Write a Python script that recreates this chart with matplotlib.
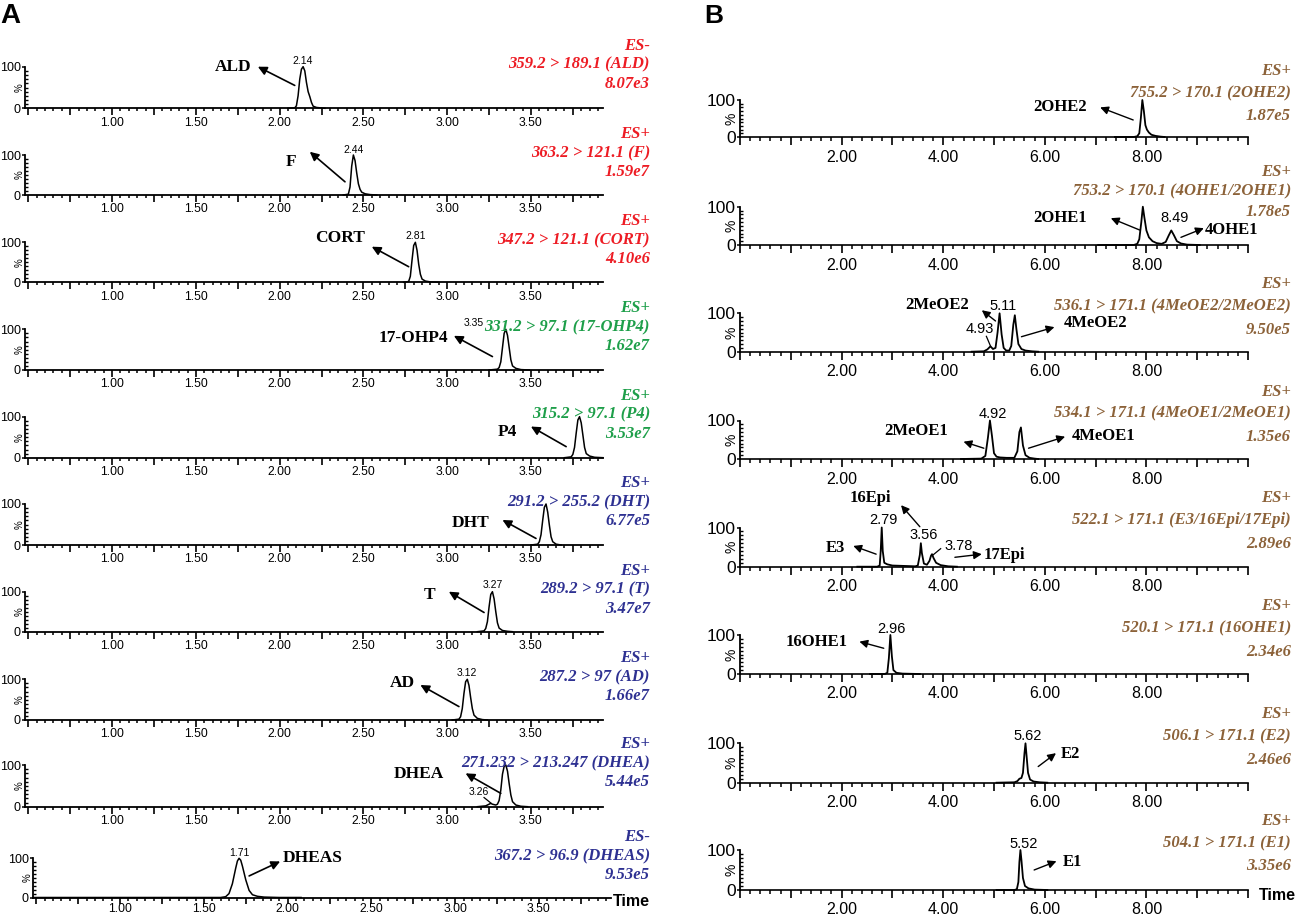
import matplotlib.pyplot as plt
from matplotlib.ticker import MultipleLocator, FixedLocator, FuncFormatter

SANS = 'Liberation Sans'
SERIF = 'Liberation Serif'
plt.rcParams['font.family'] = SANS

# ---------------- panel A data ----------------
a_mode = ['ES-', 'ES+', 'ES+', 'ES+', 'ES+', 'ES+', 'ES+', 'ES+', 'ES+', 'ES-']
a_mrm = ['359.2 > 189.1 (ALD)', '363.2 > 121.1 (F)', '347.2 > 121.1 (CORT)',
         '331.2 > 97.1 (17-OHP4)', '315.2 > 97.1 (P4)', '291.2 > 255.2 (DHT)',
         '289.2 > 97.1 (T)', '287.2 > 97 (AD)', '271.232 > 213.247 (DHEA)',
         '367.2 > 96.9 (DHEAS)']
a_resp = ['8.07e3', '1.59e7', '4.10e6', '1.62e7', '3.53e7', '6.77e5',
          '3.47e7', '1.66e7', '5.44e5', '9.53e5']
a_name = ['ALD', 'F', 'CORT', '17-OHP4', 'P4', 'DHT', 'T', 'AD', 'DHEA', 'DHEAS']
a_rt = ['2.14', '2.44', '2.81', '3.35', '', '', '3.27', '3.12', '3.26', '1.71']
a_ticks = [1.00, 1.50, 2.00, 2.50, 3.00, 3.50]

a_time = [
    [2.05, 2.09, 2.10, 2.11, 2.12, 2.13, 2.14, 2.15, 2.16, 2.17, 2.18, 2.19, 2.20, 2.22, 2.27],
    [2.38, 2.41, 2.42, 2.43, 2.44, 2.45, 2.46, 2.47, 2.48, 2.49, 2.51, 2.54, 2.58],
    [2.74, 2.77, 2.78, 2.79, 2.80, 2.81, 2.82, 2.83, 2.84, 2.85, 2.87, 2.90, 2.95],
    [3.25, 3.30, 3.31, 3.32, 3.33, 3.34, 3.35, 3.36, 3.37, 3.38, 3.39, 3.41, 3.44, 3.49],
    [3.70, 3.74, 3.75, 3.76, 3.77, 3.78, 3.79, 3.80, 3.81, 3.82, 3.83, 3.85, 3.88, 3.93],
    [3.50, 3.54, 3.55, 3.56, 3.57, 3.58, 3.59, 3.60, 3.61, 3.62, 3.63, 3.65, 3.68],
    [3.18, 3.22, 3.23, 3.24, 3.25, 3.26, 3.27, 3.28, 3.29, 3.30, 3.31, 3.33, 3.36, 3.39],
    [3.03, 3.07, 3.08, 3.09, 3.10, 3.11, 3.12, 3.13, 3.14, 3.15, 3.16, 3.18, 3.21, 3.24],
    [3.18, 3.23, 3.25, 3.26, 3.27, 3.29, 3.30, 3.31, 3.32, 3.33, 3.34, 3.35, 3.36, 3.37,
     3.38, 3.39, 3.41, 3.44, 3.48],
    [0.48, 1.60, 1.63, 1.65, 1.67, 1.69, 1.70, 1.71, 1.72, 1.73, 1.75, 1.77, 1.79, 1.82,
     1.86, 1.95, 2.08],
]
a_int = [
    [0, 1, 6, 30, 70, 94, 100, 90, 62, 40, 28, 14, 5, 2, 0],
    [0, 2, 20, 72, 100, 86, 55, 28, 14, 7, 3, 1, 0],
    [0, 2, 15, 55, 92, 100, 80, 45, 20, 8, 3, 1, 0],
    [0, 2, 6, 20, 55, 90, 100, 85, 55, 25, 10, 4, 1, 0],
    [0, 2, 8, 25, 60, 92, 100, 85, 55, 25, 10, 4, 1, 0],
    [0, 2, 8, 25, 60, 92, 100, 80, 48, 20, 8, 2, 0],
    [0, 2, 8, 25, 62, 93, 100, 82, 50, 22, 9, 3, 1, 0],
    [0, 2, 8, 28, 65, 94, 100, 85, 55, 28, 12, 4, 1, 0],
    [0, 2, 6, 8, 6, 4, 6, 15, 40, 78, 97, 100, 85, 55, 28, 12, 4, 1, 0],
    [0, 0, 2, 10, 35, 75, 93, 100, 95, 80, 45, 18, 7, 3, 1, 0, 0],
]

# ---------------- panel B data ----------------
b_mode = ['ES+'] * 8
b_mrm = ['755.2 > 170.1 (2OHE2)', '753.2 > 170.1 (4OHE1/2OHE1)',
         '536.1 > 171.1 (4MeOE2/2MeOE2)', '534.1 > 171.1 (4MeOE1/2MeOE1)',
         '522.1 > 171.1 (E3/16Epi/17Epi)', '520.1 > 171.1 (16OHE1)',
         '506.1 > 171.1 (E2)', '504.1 > 171.1 (E1)']
b_resp = ['1.87e5', '1.78e5', '9.50e5', '1.35e6', '2.89e6', '2.34e6', '2.46e6', '3.35e6']
b_name = [['2OHE2'], ['2OHE1', '4OHE1'], ['2MeOE2', '4MeOE2'], ['2MeOE1', '4MeOE1'],
          ['16Epi', 'E3', '17Epi'], ['16OHE1'], ['E2'], ['E1']]
b_rt = [[], ['8.49'], ['5.11', '4.93'], ['4.92'], ['2.79', '3.56', '3.78'],
        ['2.96'], ['5.62'], ['5.52']]
b_ticks = [2.00, 4.00, 6.00, 8.00]

b_time = [
    [7.38, 7.75, 7.82, 7.86, 7.89, 7.92, 7.95, 7.98, 8.01, 8.05, 8.10, 8.18, 8.28, 8.36],
    [7.05, 7.75, 7.82, 7.86, 7.90, 7.93, 7.96, 8.00, 8.05, 8.12, 8.20, 8.30, 8.38, 8.44,
     8.49, 8.54, 8.60, 8.68, 8.80, 9.05],
    [4.56, 4.80, 4.87, 4.93, 4.98, 5.03, 5.07, 5.11, 5.15, 5.19, 5.24, 5.30, 5.34, 5.38,
     5.41, 5.44, 5.48, 5.54, 5.62, 5.75, 5.87],
    [4.35, 4.75, 4.83, 4.88, 4.92, 4.96, 5.00, 5.05, 5.12, 5.25, 5.40, 5.46, 5.50, 5.53,
     5.57, 5.62, 5.70, 5.80, 5.87],
    [2.31, 2.70, 2.75, 2.77, 2.79, 2.81, 2.84, 2.90, 3.00, 3.45, 3.50, 3.54, 3.56, 3.58,
     3.62, 3.68, 3.73, 3.76, 3.78, 3.81, 3.86, 3.95, 4.10, 4.27],
    [2.56, 2.85, 2.90, 2.93, 2.96, 2.99, 3.02, 3.08, 3.20, 3.54],
    [5.05, 5.40, 5.46, 5.50, 5.54, 5.57, 5.60, 5.62, 5.64, 5.67, 5.71, 5.78, 5.90, 6.05],
    [5.05, 5.40, 5.45, 5.48, 5.50, 5.52, 5.54, 5.57, 5.61, 5.68, 5.80, 6.05],
]
b_int = [
    [0, 0, 2, 10, 50, 100, 70, 32, 20, 12, 6, 3, 1, 0],
    [0, 0, 3, 15, 60, 100, 72, 38, 20, 10, 5, 3, 8, 25, 38, 26, 10, 4, 1, 0],
    [0, 1, 6, 14, 7, 10, 50, 100, 45, 10, 3, 3, 15, 70, 95, 60, 20, 7, 3, 1, 0],
    [0, 1, 8, 55, 100, 60, 15, 6, 4, 3, 3, 20, 70, 82, 35, 10, 3, 1, 0],
    [0, 0, 3, 40, 100, 40, 10, 6, 3, 1, 3, 30, 60, 35, 8, 5, 15, 28, 32, 22, 10, 4, 1, 0],
    [0, 0, 3, 40, 100, 45, 10, 3, 1, 0],
    [0, 1, 4, 10, 12, 25, 75, 100, 70, 25, 8, 3, 1, 0],
    [0, 0, 2, 20, 70, 100, 75, 30, 10, 4, 1, 0],
]

# ---------------- layout (pixels / data positions of labels) ----------------
W, H = 1299, 915
RED, GREEN, NAVY, BROWN = '#ed1c24', '#1e9f4a', '#2e3192', '#8c6239'
a_color = [RED] * 3 + [GREEN] * 2 + [NAVY] * 5

a_top = [66.7, 155, 242.3, 329.3, 416.7, 504, 591.7, 679.3, 765, 858.3]
a_base = [108.3, 195, 282.3, 370, 457.7, 545, 631.7, 720, 806.7, 897.5]
b_top = [100, 206.7, 313.3, 420.5, 527.5, 635, 743.3, 850]
b_base = [137, 245, 351.7, 459, 566.7, 674, 782.7, 890]
b_text_dy = [(-29, -7, 16.5), (-35, -15, 5)] + [(-29, -7, 16.5)] * 6

a_name_xy = [(1.72, 100), (2.07, 83), (2.36, 112), (2.80, 78), (3.36, 63),
             (3.14, 53), (2.895, 92), (2.73, 90), (2.83, 78), (2.15, 100)]
a_arrow = [((1.87, 100), (2.09, 55)), ((2.18, 108), (2.39, 33)), ((2.55, 89), (2.77, 39)),
           ((3.04, 84), (3.27, 33)), ((3.50, 76), (3.71, 27)), ((3.33, 61), (3.53, 16)),
           ((3.01, 100), (3.22, 48)), ((2.84, 86), (3.07, 33)), ((3.11, 80), (3.32, 32)),
           ((1.955, 92), (1.77, 55))]
a_rt_xy = [(2.14, 113), (2.44, 113), (2.81, 116), (3.16, 115), None, None,
           (3.27, 117), (3.12, 116), (3.19, 36), (1.71, 114)]

b_name_xy = [[(6.30, 82)], [(6.30, 70), (9.67, 39)], [(3.88, 122), (6.99, 75)],
             [(3.47, 73), (7.16, 61)], [(2.56, 176), (1.88, 47), (5.21, 30)],
             [(1.50, 83)], [(6.51, 73)], [(6.54, 71)]]
b_arrow = [[((7.09, 80), (7.74, 46))],
           [((7.30, 70), (7.87, 39)), ((9.13, 44), (8.68, 20))],
           [((4.76, 108), (5.03, 80)), ((6.19, 64), (5.54, 39))],
           [((4.40, 45), (4.80, 28)), ((6.40, 58), (5.68, 28))],
           [((3.17, 157), (3.54, 102)), ((2.23, 53), (2.68, 32)), ((4.76, 32), (4.23, 24))],
           [((2.35, 83), (2.83, 66))],
           [((6.22, 75), (5.87, 41))],
           [((6.23, 72), (5.79, 50))]]
b_rt_xy = [[], [(8.56, 70)], [(5.17, 119), (4.72, 58)], [(4.97, 117)],
           [(2.83, 119), (3.62, 81), (4.31, 53)], [(2.99, 115)], [(5.66, 119)],
           [(5.58, 115)]]

fig = plt.figure(figsize=(W / 100, H / 100), dpi=100)


def setup(ax, xlim, major, minor, labels, tick_fs, y_fs, pct_fs, maj_len, min_len, pad):
    ax.set_xlim(xlim)
    ax.set_ylim(0, 100)
    ax.patch.set_alpha(0)
    for s in ('top', 'right'):
        ax.spines[s].set_visible(False)
    for s in ('left', 'bottom'):
        ax.spines[s].set_linewidth(1.3)
    ax.xaxis.set_major_locator(MultipleLocator(major))
    ax.xaxis.set_minor_locator(MultipleLocator(minor))
    ax.xaxis.set_major_formatter(FuncFormatter(
        lambda v, p: f'{v:.2f}' if any(abs(v - L) < 1e-6 for L in labels) else ''))
    ax.tick_params(axis='x', which='major', length=maj_len, width=1.2,
                   labelsize=tick_fs, pad=pad)
    ax.tick_params(axis='x', which='minor', length=min_len, width=1.1)
    ax.set_yticks([0, 100])
    ax.set_yticklabels(['0', '100'])
    ax.yaxis.set_minor_locator(FixedLocator(range(10, 100, 10)))
    ax.tick_params(axis='y', which='major', length=2.5, width=1.1, labelsize=y_fs, pad=0.5)
    ax.tick_params(axis='y', which='minor', direction='in', length=2.5, width=1.0)
    ax.annotate('%', xy=(0, 0.5), xycoords='axes fraction', xytext=(-pct_fs * 0.6, 0),
                textcoords='offset points', rotation=90, ha='center', va='center',
                fontsize=pct_fs)


def arrow(ax, head, tail, lw=1.2, ms=13):
    ax.annotate('', xy=head, xytext=tail, annotation_clip=False,
                arrowprops=dict(arrowstyle='-|>', color='k', lw=lw, mutation_scale=ms,
                                shrinkA=0, shrinkB=0))


def side_text(px, py, lines, color, offsets):
    for txt, dy in zip(lines, offsets):
        fig.text(px / W, 1 - (py + dy) / H, txt, ha='right', va='center', color=color,
                 family=SERIF, weight='bold', style='italic', fontsize=12)


# ---------------- panel A ----------------
for i in range(10):
    x0, x1 = (33, 611) if i == 9 else (25, 603)
    ax = fig.add_axes([x0 / W, 1 - a_base[i] / H, (x1 - x0) / W, (a_base[i] - a_top[i]) / H])
    if i == 9:
        setup(ax, (0.48, 3.93), 0.25, 0.05, a_ticks, 8.8, 9, 7, 4, 2.5, 0)
    else:
        setup(ax, (0.48, 3.93), 0.25, 0.05, a_ticks, 8.8, 9, 7, 5, 2.5, 1)
    ax.plot(a_time[i], a_int[i], color='k', lw=1.1, clip_on=False, zorder=4)
    nx, ny = a_name_xy[i]
    ax.text(nx, ny, a_name[i], ha='center', va='center', family=SERIF, weight='bold',
            fontsize=12.5, clip_on=False)
    arrow(ax, *a_arrow[i])
    if a_rt_xy[i] is not None:
        ax.text(*a_rt_xy[i], a_rt[i], ha='center', va='center', fontsize=7.5, clip_on=False)
    side_text(650, a_top[i], [a_mode[i], a_mrm[i], a_resp[i]], a_color[i], (-21, -2, 17))

# small leader for the 3.26 shoulder in DHEA
fig.axes[8].plot([3.22, 3.26], [22, 9], color='k', lw=0.9, clip_on=False)

fig.text(613 / W, 1 - 901 / H, 'Time', ha='left', va='center', weight='bold', fontsize=11.5)
fig.text(10 / W, 1 - 16 / H, 'A', ha='center', va='center', weight='bold', fontsize=20)

# ---------------- panel B ----------------
for i in range(8):
    ax = fig.add_axes([740 / W, 1 - b_base[i] / H, 508 / W, (b_base[i] - b_top[i]) / H])
    setup(ax, (0, 10), 1.0, 0.2, b_ticks, 11.5, 12.5, 10, 6, 3, 3)
    ax.spines['bottom'].set_linewidth(1.2)
    ax.plot(b_time[i], b_int[i], color='k', lw=1.3, clip_on=False, zorder=4)
    for name, (nx, ny) in zip(b_name[i], b_name_xy[i]):
        ax.text(nx, ny, name, ha='center', va='center', family=SERIF, weight='bold',
                fontsize=12, clip_on=False)
    for head, tail in b_arrow[i]:
        arrow(ax, head, tail, lw=1.0, ms=12)
    for rt, (rx, ry) in zip(b_rt[i], b_rt_xy[i]):
        ax.text(rx, ry, rt, ha='center', va='center', fontsize=10.5, clip_on=False)
    side_text(1291, b_top[i], [b_mode[i], b_mrm[i], b_resp[i]], BROWN, b_text_dy[i])

# leaders for small labelled peaks
fig.axes[12].plot([4.85, 4.93], [40, 15], color='k', lw=0.9, clip_on=False)
fig.axes[14].plot([3.80, 3.95], [30, 46], color='k', lw=0.9, clip_on=False)

fig.text(1296 / W, 1 - 896 / H, 'Time', ha='right', va='center', weight='bold', fontsize=11.5)
fig.text(714 / W, 1 - 16 / H, 'B', ha='center', va='center', weight='bold', fontsize=19)

fig.savefig('out.png', dpi=100)
